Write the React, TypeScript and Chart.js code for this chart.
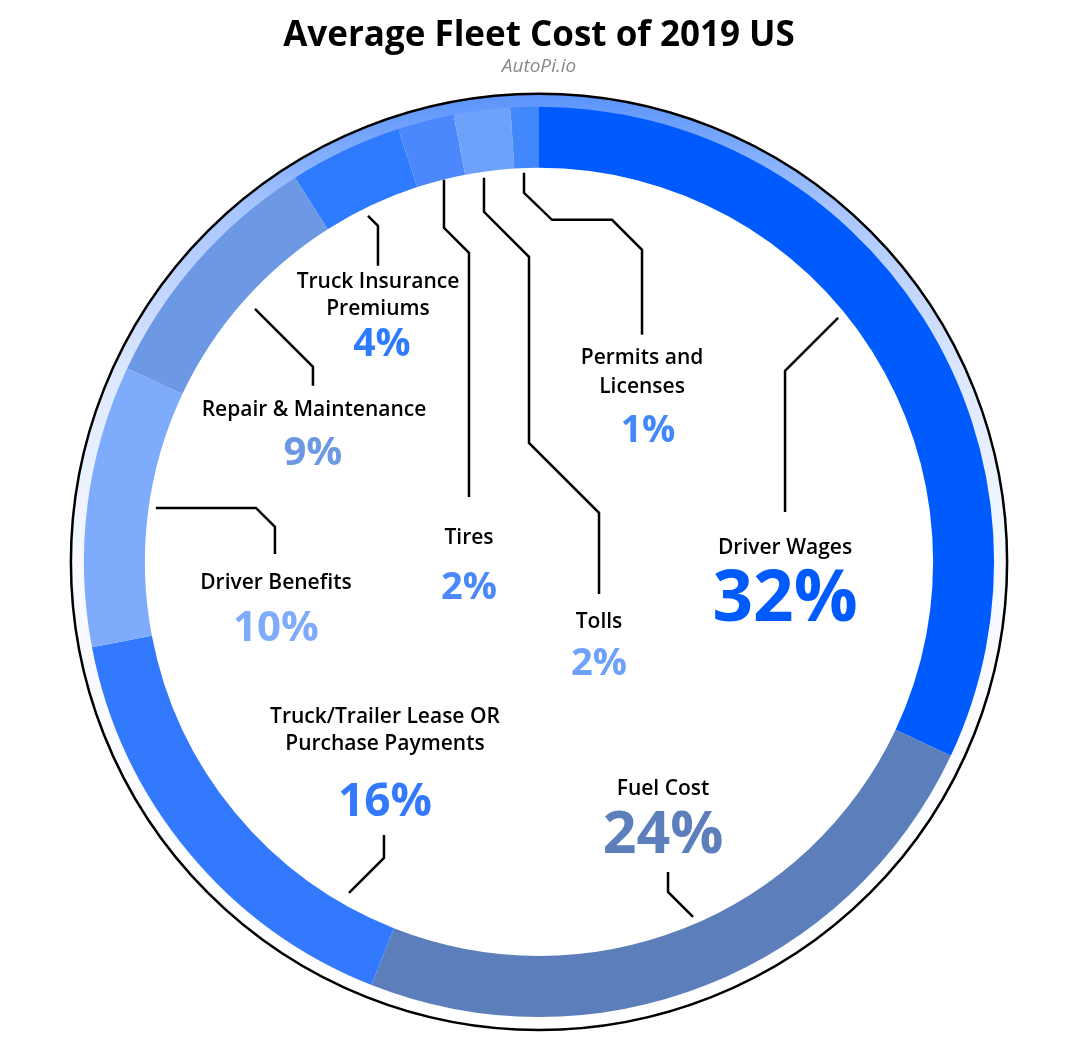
import React, { useEffect, useRef } from "react";
import { Chart, registerables } from "chart.js";

Chart.register(...registerables);

const categories = [
  "Driver Wages",
  "Fuel Cost",
  "Truck/Trailer Lease OR Purchase Payments",
  "Driver Benefits",
  "Repair & Maintenance",
  "Truck Insurance Premiums",
  "Tires",
  "Tolls",
  "Permits and Licenses",
];
const shares = [32, 24, 16, 10, 9, 4, 2, 2, 1];
const labelLines = [
  ["Driver Wages"],
  ["Fuel Cost"],
  ["Truck/Trailer Lease OR", "Purchase Payments"],
  ["Driver Benefits"],
  ["Repair & Maintenance"],
  ["Truck Insurance", "Premiums"],
  ["Tires"],
  ["Tolls"],
  ["Permits and", "Licenses"],
];
const colors = [
  "#005bff",
  "#5c7fbc",
  "#3379fe",
  "#7eabfc",
  "#6c98e4",
  "#2f7bff",
  "#4a88fb",
  "#6ea1fa",
  "#4388fb",
];

// Label layout, offsets from the doughnut centre at a reference outer radius of 455.
const REF_R = 455;
const nameY = [[-14], [227], [155, 182], [21], [-152], [-280, -253], [-24], [60], [-204, -175]];
const nameX = [246, 124, -154, -263, -225, -161, -70, 60, 103];
const pctPos = [
  [246, 39], [124, 274], [-154, 241], [-263, 67], [-226, -108],
  [-157, -217], [-70, 26], [60, 102], [109, -130],
];
const pctSize = [71, 59, 46, 42, 40, 39, 38, 38, 37];
const connectors = [
  [[299, -244], [246, -191], [246, -50]],
  [[154, 355], [129, 330], [129, 310]],
  [[-190, 331], [-155, 296], [-155, 273]],
  [[-383, -54], [-283, -54], [-264, -35], [-264, -8]],
  [[-284, -253], [-226, -195], [-226, -176]],
  [[-171, -346], [-161, -336], [-161, -296]],
  [[-95, -382], [-95, -334], [-70, -309], [-70, -65]],
  [[-55, -384], [-55, -350], [-10, -305], [-10, -119], [60, -49], [60, 32]],
  [[-15, -389], [-15, -369], [13, -342], [73, -342], [103, -312], [103, -227]],
];

const FONT = "'Open Sans', 'Noto Sans', sans-serif";

const ringPlugin = {
  id: "ringPlugin",
  beforeDatasetsDraw(chart: any) {
    const meta = chart.getDatasetMeta(0);
    const arc = meta.data[0];
    if (!arc) return;
    const { x, y, outerRadius } = arc.getProps(["x", "y", "outerRadius"], true);
    const ctx = chart.ctx;
    const ringR = outerRadius + 13;
    const g = ctx.createLinearGradient(0, y - ringR, 0, y + ringR);
    g.addColorStop(0, "#5a93fa");
    g.addColorStop(0.05, "#78a7fc");
    g.addColorStop(0.12, "#a6c4ff");
    g.addColorStop(0.3, "#dde8ff");
    g.addColorStop(0.5, "#f6f9ff");
    g.addColorStop(1, "#ffffff");
    ctx.save();
    ctx.beginPath();
    ctx.arc(x, y, ringR, 0, Math.PI * 2);
    ctx.arc(x, y, outerRadius - 3, 0, Math.PI * 2, true);
    ctx.closePath();
    ctx.fillStyle = g;
    ctx.fill();
    ctx.beginPath();
    ctx.arc(x, y, ringR, 0, Math.PI * 2);
    ctx.lineWidth = 2.5;
    ctx.strokeStyle = "#000";
    ctx.stroke();
    ctx.restore();
  },
  afterDatasetsDraw(chart: any) {
    const meta = chart.getDatasetMeta(0);
    const arc = meta.data[0];
    if (!arc) return;
    const { x, y, outerRadius } = arc.getProps(["x", "y", "outerRadius"], true);
    const s = outerRadius / REF_R;
    const ctx = chart.ctx;
    ctx.save();
    ctx.strokeStyle = "#000";
    ctx.lineWidth = 2.5;
    ctx.lineJoin = "miter";
    connectors.forEach((pts) => {
      ctx.beginPath();
      pts.forEach(([px, py], i) => {
        if (i === 0) ctx.moveTo(x + px * s, y + py * s);
        else ctx.lineTo(x + px * s, y + py * s);
      });
      ctx.stroke();
    });
    ctx.textAlign = "center";
    ctx.textBaseline = "middle";
    categories.forEach((_, i) => {
      ctx.fillStyle = "#000";
      ctx.font = `600 ${Math.round(21 * s)}px ${FONT}`;
      labelLines[i].forEach((line, j) => {
        ctx.fillText(line, x + nameX[i] * s, y + nameY[i][j] * s);
      });
      ctx.fillStyle = colors[i];
      ctx.font = `bold ${Math.round(pctSize[i] * s)}px ${FONT}`;
      ctx.fillText(`${shares[i]}%`, x + pctPos[i][0] * s, y + pctPos[i][1] * s);
    });
    ctx.restore();
  },
};

export default function App() {
  const ref = useRef<HTMLCanvasElement | null>(null);
  useEffect(() => {
    if (!ref.current) return;
    const chart = new Chart(ref.current, {
      type: "doughnut",
      data: {
        labels: categories,
        datasets: [
          {
            data: shares,
            backgroundColor: colors,
            borderWidth: 0,
          },
        ],
      },
      options: {
        responsive: false,
        animation: false,
        cutout: "86.6%",
        layout: { padding: { bottom: 18 } },
        plugins: {
          legend: { display: false },
          tooltip: { enabled: false },
          title: {
            display: true,
            text: "Average Fleet Cost of 2019 US",
            color: "#000",
            font: { family: FONT, size: 35, weight: "bold" },
            padding: { top: 7, bottom: -2 },
          },
          subtitle: {
            display: true,
            text: "AutoPi.io",
            color: "#888",
            font: { family: FONT, size: 19, style: "italic" },
            padding: { top: 0, bottom: 29 },
          },
        },
      },
      plugins: [ringPlugin],
    });
    return () => chart.destroy();
  }, []);
  return (
    <div style={{ width: 1062, height: 1027 }}>
      <canvas ref={ref} width={1062} height={1027} style={{ display: "block" }} />
    </div>
  );
}
